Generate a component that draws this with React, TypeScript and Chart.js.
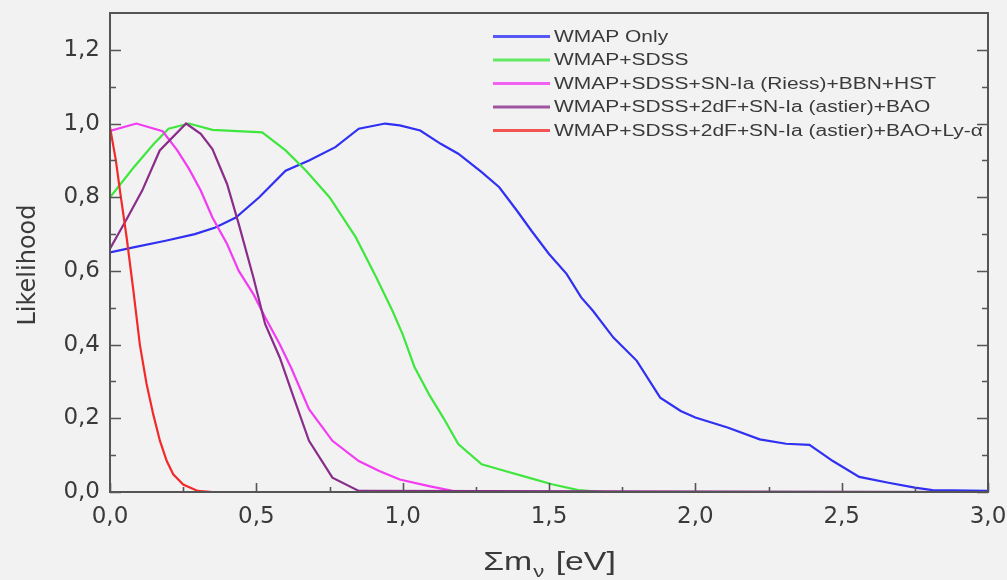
import React, { useEffect, useRef } from "react";
import { Chart, registerables } from "chart.js";

Chart.register(...registerables);

// ---- data (Σmν in eV, likelihood) ----
const wmapOnlyX = [0, 0.08, 0.19, 0.29, 0.36, 0.43, 0.51, 0.6, 0.68, 0.77, 0.85, 0.94, 0.99, 1.06, 1.13, 1.19, 1.27, 1.33, 1.39, 1.44, 1.5, 1.56, 1.61, 1.65, 1.72, 1.8, 1.88, 1.95, 2.0, 2.11, 2.22, 2.31, 2.39, 2.47, 2.56, 2.66, 2.75, 2.81, 3.0];
const wmapOnlyY = [0.65, 0.664, 0.682, 0.7, 0.718, 0.745, 0.8, 0.872, 0.9, 0.936, 0.986, 1.0, 0.995, 0.981, 0.945, 0.918, 0.868, 0.827, 0.764, 0.709, 0.646, 0.592, 0.528, 0.492, 0.419, 0.356, 0.256, 0.22, 0.202, 0.175, 0.143, 0.131, 0.128, 0.084, 0.041, 0.025, 0.012, 0.005, 0.003];

const sdssX = [0, 0.08, 0.15, 0.2, 0.27, 0.35, 0.52, 0.6, 0.67, 0.75, 0.84, 0.91, 0.965, 1.0, 1.04, 1.09, 1.14, 1.19, 1.27, 1.35, 1.43, 1.51, 1.6, 1.69, 3.0];
const sdssY = [0.8, 0.88, 0.945, 0.986, 1.0, 0.983, 0.976, 0.927, 0.872, 0.8, 0.691, 0.582, 0.492, 0.428, 0.34, 0.265, 0.2, 0.13, 0.075, 0.057, 0.039, 0.021, 0.005, 0, 0];

const riessX = [0, 0.09, 0.18, 0.23, 0.27, 0.31, 0.35, 0.4, 0.44, 0.49, 0.53, 0.58, 0.62, 0.68, 0.76, 0.85, 0.92, 0.99, 1.09, 1.17, 1.24, 3.0];
const riessY = [0.98, 1.0, 0.979, 0.927, 0.877, 0.818, 0.745, 0.673, 0.6, 0.537, 0.474, 0.401, 0.335, 0.225, 0.139, 0.084, 0.057, 0.034, 0.016, 0.003, 0, 0];

const baoX = [0, 0.06, 0.11, 0.17, 0.26, 0.31, 0.35, 0.4, 0.44, 0.49, 0.53, 0.58, 0.62, 0.68, 0.76, 0.85, 3.0];
const baoY = [0.66, 0.745, 0.818, 0.927, 1.0, 0.972, 0.931, 0.836, 0.727, 0.582, 0.456, 0.365, 0.274, 0.139, 0.039, 0.003, 0];

const lyaX = [0, 0.02, 0.034, 0.057, 0.08, 0.102, 0.125, 0.148, 0.171, 0.194, 0.216, 0.25, 0.3, 0.35, 1.0];
const lyaY = [0.99, 0.9, 0.818, 0.69, 0.546, 0.4, 0.293, 0.21, 0.138, 0.084, 0.048, 0.02, 0.003, 0, 0];

const seriesLabels = [
  "WMAP Only",
  "WMAP+SDSS",
  "WMAP+SDSS+SN-Ia (Riess)+BBN+HST",
  "WMAP+SDSS+2dF+SN-Ia (astier)+BAO",
  "WMAP+SDSS+2dF+SN-Ia (astier)+BAO+Ly-\u03b1",
];
const seriesColors = ["#3030f2", "#3ee63e", "#f23cf2", "#8a2c8a", "#f22a2a"];
const drawOrder = [4, 3, 2, 1, 0];

const xTicks = [0, 0.5, 1.0, 1.5, 2.0, 2.5, 3.0];
const xMinorTicks = [0.25, 0.75, 1.25, 1.75, 2.25, 2.75];
const yTicks = [0, 0.2, 0.4, 0.6, 0.8, 1.0, 1.2];
const yMinorTicks = [0.1, 0.3, 0.5, 0.7, 0.9, 1.1];

const xTitleMain = "\u03a3m";
const xTitleSub = "\u03bd";
const xTitleUnit = " [eV]";
const yTitle = "Likelihood";

const TEXT = "#3a3a3a";
const FRAME = "#555555";

const zip = (xs: number[], ys: number[]) => xs.map((x, i) => ({ x, y: ys[i] }));
const fmt = (v: number) => v.toFixed(1).replace(".", ",");

const bgPlugin = {
  id: "bg",
  beforeDraw(chart: any) {
    const { ctx, width, height } = chart;
    ctx.save();
    ctx.fillStyle = "#f2f2f2";
    ctx.fillRect(0, 0, width, height);
    ctx.restore();
  },
};

const framePlugin = {
  id: "frame",
  afterDatasetsDraw(chart: any) {
    const { ctx, chartArea, scales } = chart;
    const { left, right, top, bottom } = chartArea;
    const x = scales.x;
    const y = scales.y;
    ctx.save();
    ctx.strokeStyle = FRAME;
    ctx.lineWidth = 2;
    ctx.strokeRect(left, top, right - left, bottom - top);
    ctx.lineWidth = 1.6;
    ctx.beginPath();
    yTicks.forEach((v) => {
      const p = Math.round(y.getPixelForValue(v)) + 0.5;
      ctx.moveTo(left, p);
      ctx.lineTo(left + 11, p);
      ctx.moveTo(right, p);
      ctx.lineTo(right - 11, p);
    });
    yMinorTicks.forEach((v) => {
      const p = Math.round(y.getPixelForValue(v)) + 0.5;
      ctx.moveTo(left, p);
      ctx.lineTo(left + 6, p);
      ctx.moveTo(right, p);
      ctx.lineTo(right - 6, p);
    });
    xTicks.forEach((v) => {
      const p = Math.round(x.getPixelForValue(v)) + 0.5;
      ctx.moveTo(p, bottom);
      ctx.lineTo(p, bottom - 9);
    });
    xMinorTicks.forEach((v) => {
      const p = Math.round(x.getPixelForValue(v)) + 0.5;
      ctx.moveTo(p, bottom);
      ctx.lineTo(p, bottom - 5);
    });
    ctx.stroke();
    ctx.restore();
  },
};

const textPlugin = {
  id: "texts",
  afterDraw(chart: any) {
    const { ctx, chartArea } = chart;
    ctx.save();
    ctx.fillStyle = TEXT;

    // y title
    ctx.save();
    ctx.translate(29, 265);
    ctx.rotate(-Math.PI / 2);
    ctx.font = '24px "DejaVu Sans"';
    ctx.textAlign = "center";
    ctx.textBaseline = "middle";
    ctx.fillText(yTitle, 0, 0);
    ctx.restore();

    // x title with subscript
    const sx = 1.3;
    const bigFont = '26px "Liberation Sans"';
    const subFont = '17px "Liberation Sans"';
    ctx.font = bigFont;
    const w1 = ctx.measureText(xTitleMain).width * sx;
    const w3 = ctx.measureText(xTitleUnit).width * sx;
    ctx.font = subFont;
    const w2 = ctx.measureText(xTitleSub).width * sx + 2;
    const cx = (chartArea.left + chartArea.right) / 2;
    let px = cx - (w1 + w2 + w3) / 2;
    const base = 570;
    ctx.textAlign = "left";
    ctx.textBaseline = "alphabetic";
    const drawScaled = (t: string, font: string, xx: number, yy: number) => {
      ctx.save();
      ctx.font = font;
      ctx.translate(xx, yy);
      ctx.scale(sx, 1);
      ctx.fillText(t, 0, 0);
      ctx.restore();
    };
    drawScaled(xTitleMain, bigFont, px, base);
    px += w1 + 1;
    drawScaled(xTitleSub, subFont, px, base + 7);
    px += w2;
    drawScaled(xTitleUnit, bigFont, px, base);

    // legend
    const lx0 = 493;
    const lx1 = 550;
    const tx = 554;
    const rowY = 36.5;
    const rowGap = 23.5;
    chart.data.datasets.forEach((ds: any, i: number) => {
      const yy = rowY + i * rowGap;
      ctx.strokeStyle = ds.borderColor;
      ctx.globalAlpha = 0.8;
      ctx.lineWidth = 3;
      ctx.beginPath();
      ctx.moveTo(lx0, yy);
      ctx.lineTo(lx1, yy);
      ctx.stroke();
      ctx.globalAlpha = 1;
      ctx.save();
      ctx.font = '16px "Liberation Sans"';
      ctx.textBaseline = "middle";
      ctx.fillStyle = TEXT;
      ctx.translate(tx, yy + 1);
      ctx.scale(1.31, 1);
      ctx.fillText(ds.label, 0, 0);
      ctx.restore();
    });
    ctx.restore();
  },
};

export default function App() {
  const ref = useRef<HTMLCanvasElement | null>(null);

  useEffect(() => {
    document.body.style.margin = "0";
    document.body.style.background = "#f2f2f2";
    const canvas = ref.current;
    if (!canvas) return;
    const xs = [wmapOnlyX, sdssX, riessX, baoX, lyaX];
    const ys = [wmapOnlyY, sdssY, riessY, baoY, lyaY];
    const chart = new Chart(canvas, {
      type: "line",
      data: {
        datasets: seriesLabels.map((label, i) => ({
          label,
          data: zip(xs[i], ys[i]),
          borderColor: seriesColors[i],
          backgroundColor: seriesColors[i],
          borderWidth: 2.2,
          pointRadius: 0,
          tension: 0,
          fill: false,
          order: drawOrder[i],
        })),
      },
      options: {
        responsive: false,
        animation: false,
        layout: { padding: { top: 13, right: 19, left: 0, bottom: 0 } },
        plugins: { legend: { display: false }, tooltip: { enabled: false } },
        scales: {
          x: {
            type: "linear",
            min: 0,
            max: 3,
            grid: { display: false, drawTicks: false },
            border: { display: false },
            afterBuildTicks: (s: any) => {
              s.ticks = xTicks.map((v) => ({ value: v }));
            },
            afterFit: (s: any) => {
              s.height = 88;
              s.paddingLeft = 0;
              s.paddingRight = 0;
              s.paddingTop = 0;
              s.paddingBottom = 0;
            },
            ticks: {
              padding: 11,
              color: TEXT,
              font: { family: "DejaVu Sans", size: 23 },
              callback: (v: any) => fmt(Number(v)),
              maxRotation: 0,
            },
          },
          y: {
            type: "linear",
            min: 0,
            max: 1.3,
            grid: { display: false, drawTicks: false },
            border: { display: false },
            afterBuildTicks: (s: any) => {
              s.ticks = yTicks.map((v) => ({ value: v }));
            },
            afterFit: (s: any) => {
              s.width = 110;
              s.paddingLeft = 0;
              s.paddingRight = 0;
              s.paddingTop = 0;
              s.paddingBottom = 0;
            },
            ticks: {
              padding: 10,
              color: TEXT,
              font: { family: "DejaVu Sans", size: 23 },
              callback: (v: any) => fmt(Number(v)),
            },
          },
        },
      },
      plugins: [bgPlugin, framePlugin, textPlugin],
    } as any);
    return () => chart.destroy();
  }, []);

  return (
    <div style={{ width: 1007, height: 580, background: "#f2f2f2" }}>
      <canvas ref={ref} width={1007} height={580} style={{ display: "block" }} />
    </div>
  );
}
